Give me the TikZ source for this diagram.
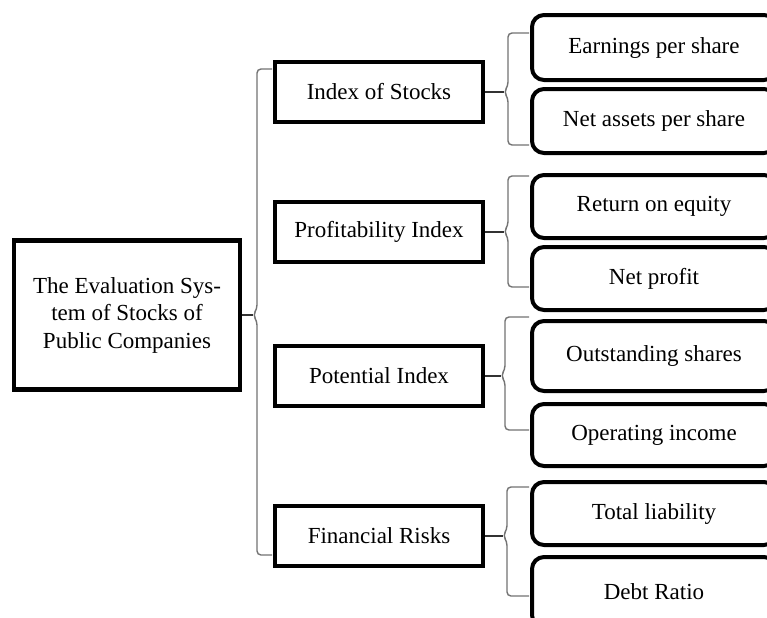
\documentclass[tikz,border=0pt]{standalone}
\usepackage{fontspec}
\setmainfont{Liberation Serif}
\usetikzlibrary{positioning}

\begin{document}
\begin{tikzpicture}
[x=0.5pt,y=-0.5pt,font=\fontsize{11.5}{13.75}\selectfont,
 root/.style={draw,line width=2.2pt,minimum width=113pt,minimum height=74.5pt,align=center,inner sep=2pt},
 index/.style={draw,line width=2pt,minimum width=104pt,minimum height=30pt},
 item/.style={draw,line width=2pt,rounded corners=6pt,minimum width=122pt},
 brace/.style={draw=black!55,line width=0.7pt,rounded corners=2pt},
 stem/.style={draw=black!80,line width=1pt}]

\useasboundingbox (0,0) rectangle (767,617);
\clip (0,0) rectangle (767,617);
\fill[white] (0,0) rectangle (767,617);

\node[root] (sys) at (127,315) {The Evaluation Sys-\\tem of Stocks of\\Public Companies};

\node[index] (stocks) at (379,92) {Index of Stocks};
\node[index] (profit) at (379,231.5) {Profitability Index};
\node[index] (potential) at (379,375.5) {Potential Index};
\node[index] (risks) at (379,535.5) {Financial Risks};

\node[item,minimum height=32.5pt] (eps) at (654,47.5) {Earnings per share};
\node[item,minimum height=32pt,below=2.5pt of eps] (naps) {Net assets per share};
\node[item,minimum height=31.5pt] (roe) at (654,206.5) {Return on equity};
\node[item,minimum height=31.5pt,below=2.5pt of roe] (np) {Net profit};
\node[item,minimum height=35pt] (shares) at (654,356) {Outstanding shares};
\node[item,minimum height=31pt,below=4.5pt of shares] (opinc) {Operating income};
\node[item,minimum height=31.5pt] (liab) at (654,513.5) {Total liability};
\node[item,minimum height=35pt,below=4pt of liab] (debt) {Debt Ratio};

% braces: parent / x / top / middle / bottom / hook end
\foreach \p/\bx/\bt/\bmid/\bb/\hx in {sys/257/69/315/555/272,
	stocks/508/33/92/145/529, profit/508/176/231.5/287/529,
	potential/505/317/375.5/430/529, risks/507/487/535.5/596/529}
{
	\coordinate (\p-tip) at (\bx-4,\bmid);
	\draw[brace] (\hx,\bt) -- (\bx,\bt) -- (\bx,\bmid-6) -- (\p-tip)
		-- (\bx,\bmid+6) -- (\bx,\bb) -- (\hx,\bb);
	\draw[stem] (\p.east) -- (\p-tip);
}
\end{tikzpicture}
\end{document}
